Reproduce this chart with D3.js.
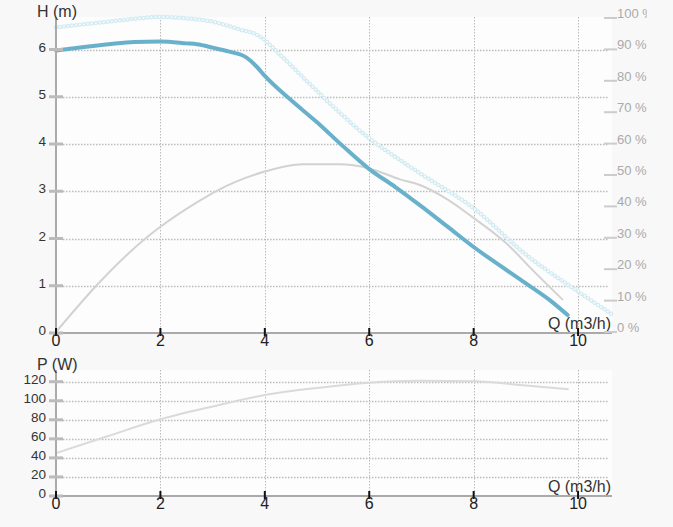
<!DOCTYPE html>
<html><head><meta charset="utf-8">
<script src="https://cdn.jsdelivr.net/npm/d3@7"></script>
<style>
html,body{margin:0;padding:0;background:#f8f8f8;}
svg{display:block;font-family:"Liberation Sans",Arial,sans-serif;}
</style></head>
<body>
<svg id="chart" width="647" height="527"></svg>
<script>
// ---- data ----
const qTicks = [0, 2, 4, 6, 8, 10];
const hTicks = [0, 1, 2, 3, 4, 5, 6];
const effTicks = [0, 10, 20, 30, 40, 50, 60, 70, 80, 90, 100];
const pTicks = [0, 20, 40, 60, 80, 100, 120];

const headQ = [0, 0.5, 1, 1.5, 2, 2.5, 2.7, 3, 3.3, 3.65, 3.85, 4, 4.5, 5, 5.5, 6, 6.5, 7, 7.5, 8, 8.5, 9, 9.5, 9.8];
const headH = [5.98, 6.05, 6.11, 6.16, 6.17, 6.13, 6.11, 6.04, 5.96, 5.83, 5.63, 5.44, 4.93, 4.46, 3.95, 3.47, 3.09, 2.68, 2.25, 1.82, 1.43, 1.05, 0.66, 0.38];

const maxQ = [0, 0.5, 1, 1.5, 2, 2.5, 3, 3.5, 3.9, 4.3, 5, 6, 6.59, 7, 8, 9, 10, 10.67];
const maxH = [6.47, 6.53, 6.59, 6.65, 6.69, 6.66, 6.59, 6.43, 6.28, 5.88, 5.12, 4.12, 3.66, 3.36, 2.64, 1.66, 0.88, 0.38];

const effQ = [0, 0.78, 1.73, 2, 2.69, 3.07, 4, 4.73, 5.43, 6, 6.59, 6.97, 7.41, 8.01, 8.63, 9.13, 9.71];
const effV = [0, 14.9, 30, 33.5, 41.2, 44.9, 51.1, 53.4, 53.4, 52.1, 48.6, 46.8, 43.1, 36.2, 28.2, 19.7, 10.2];

const powQ = [0, 1, 2, 3, 4, 5, 6, 7, 8, 9, 9.82];
const powP = [45, 63, 80.5, 94, 106, 113.5, 119, 121, 120.5, 116, 112];

// ---- layout ----
const svg = d3.select("#chart");
const L = 56, R = 612;
const top1 = 17, bot1 = 333;
const top2 = 370, bot2 = 496;

const x = d3.scaleLinear().domain([0, 10.65]).range([L, R]);
const yH = d3.scaleLinear().domain([0, 6.667]).range([bot1, top1 + 1]);
const yE = d3.scaleLinear().domain([0, 100]).range([bot1 - 1, top1 + 1]);
const yP = d3.scaleLinear().domain([0, 132.3]).range([bot2, top2]);

// plot backgrounds
svg.append("rect").attr("x", L).attr("y", top1).attr("width", R - L).attr("height", bot1 - top1).attr("fill", "#fdfdfd");
svg.append("rect").attr("x", L).attr("y", top2).attr("width", R - L).attr("height", bot2 - top2).attr("fill", "#fdfdfd");

const gridCol = "#bbbbbb";
function grids(yScale, ticks, top, bot) {
  const g = svg.append("g");
  g.selectAll("line.v").data(qTicks.filter(d => d > 0)).enter().append("line")
    .attr("x1", d => Math.round(x(d)) + 0.5).attr("x2", d => Math.round(x(d)) + 0.5).attr("y1", top).attr("y2", bot)
    .attr("stroke", gridCol).attr("stroke-width", 1).attr("stroke-dasharray", "1.5,1.5");
  g.selectAll("line.h").data(ticks.filter(d => d > 0)).enter().append("line")
    .attr("x1", L + 7).attr("x2", 609).attr("y1", d => Math.round(yScale(d)) + 0.5).attr("y2", d => Math.round(yScale(d)) + 0.5)
    .attr("stroke", gridCol).attr("stroke-width", 1.5).attr("stroke-dasharray", "1.5,1.5");
}
grids(yH, hTicks, top1, bot1);
grids(yP, pTicks, top2, bot2);

// curves
const line = (xs, ys, ysc) => d3.line().curve(d3.curveMonotoneX)
  .x((d, i) => x(xs[i])).y((d, i) => ysc(ys[i]))(xs);

// max-speed head (dotted hollow circles)
svg.append("path").attr("d", line(maxQ, maxH, yH)).attr("fill", "none")
  .attr("stroke", "#d2eaf2").attr("stroke-width", 4.5).attr("stroke-linecap", "round").attr("stroke-dasharray", "0,4");
svg.append("path").attr("d", line(maxQ, maxH, yH)).attr("fill", "none")
  .attr("stroke", "#f6fbfc").attr("stroke-width", 2.2).attr("stroke-linecap", "round").attr("stroke-dasharray", "0,4");

// efficiency
svg.append("path").attr("d", line(effQ, effV, yE)).attr("fill", "none")
  .attr("stroke", "#d2d2d2").attr("stroke-width", 2);

// head
svg.append("path").attr("d", line(headQ, headH, yH)).attr("fill", "none")
  .attr("stroke", "#69b1cb").attr("stroke-width", 4).attr("stroke-linecap", "round");

// power
svg.append("path").attr("d", line(powQ, powP, yP)).attr("fill", "none")
  .attr("stroke", "#dadada").attr("stroke-width", 2);

// axes
function axes(yScale, ticks, top, bot, yLabel) {
  const g = svg.append("g");
  g.append("line").attr("x1", L).attr("x2", L).attr("y1", top).attr("y2", bot + 1).attr("stroke", "#aaa").attr("stroke-width", 2);
  g.append("line").attr("x1", L).attr("x2", R).attr("y1", bot).attr("y2", bot).attr("stroke", "#aaa").attr("stroke-width", 2);
  g.selectAll("line.lt").data(ticks).enter().append("line")
    .attr("x1", L - 7).attr("x2", L + 7).attr("y1", d => yScale(d)).attr("y2", d => yScale(d))
    .attr("stroke", "#bbb").attr("stroke-width", 3);
  g.selectAll("text.lt").data(ticks).enter().append("text")
    .attr("x", L - 10).attr("y", d => yScale(d) + 2).attr("text-anchor", "end")
    .attr("font-size", 13.5).attr("fill", "#333").text(d => d);
  g.selectAll("line.xt").data(qTicks).enter().append("line")
    .attr("x1", d => x(d)).attr("x2", d => x(d)).attr("y1", bot - 5).attr("y2", bot + 3)
    .attr("stroke", "#111").attr("stroke-width", 2);
  g.selectAll("text.xt").data(qTicks).enter().append("text")
    .attr("x", d => x(d)).attr("y", bot + 13).attr("text-anchor", "middle")
    .attr("font-size", 16).attr("fill", "#222").text(d => d);
  g.append("text").attr("x", 611).attr("y", bot - 4).attr("text-anchor", "end")
    .attr("font-size", 16).attr("fill", "#333").text("Q (m3/h)");
  g.append("text").attr("x", 37).attr("y", top).attr("font-size", 16).attr("fill", "#333").text(yLabel);
}
axes(yH, hTicks, top1, bot1, "H (m)");
axes(yP, pTicks, top2, bot2, "P (W)");

// right efficiency axis
const gr = svg.append("g");
gr.selectAll("line").data(effTicks).enter().append("line")
  .attr("x1", 604).attr("x2", 617).attr("y1", d => yE(d)).attr("y2", d => yE(d))
  .attr("stroke", "#ccc").attr("stroke-width", 2);
gr.selectAll("text").data(effTicks).enter().append("text")
  .attr("x", 617).attr("y", d => yE(d)).attr("font-size", 13).attr("fill", "#aaa")
  .text(d => d + " %");
</script>
</body></html>
